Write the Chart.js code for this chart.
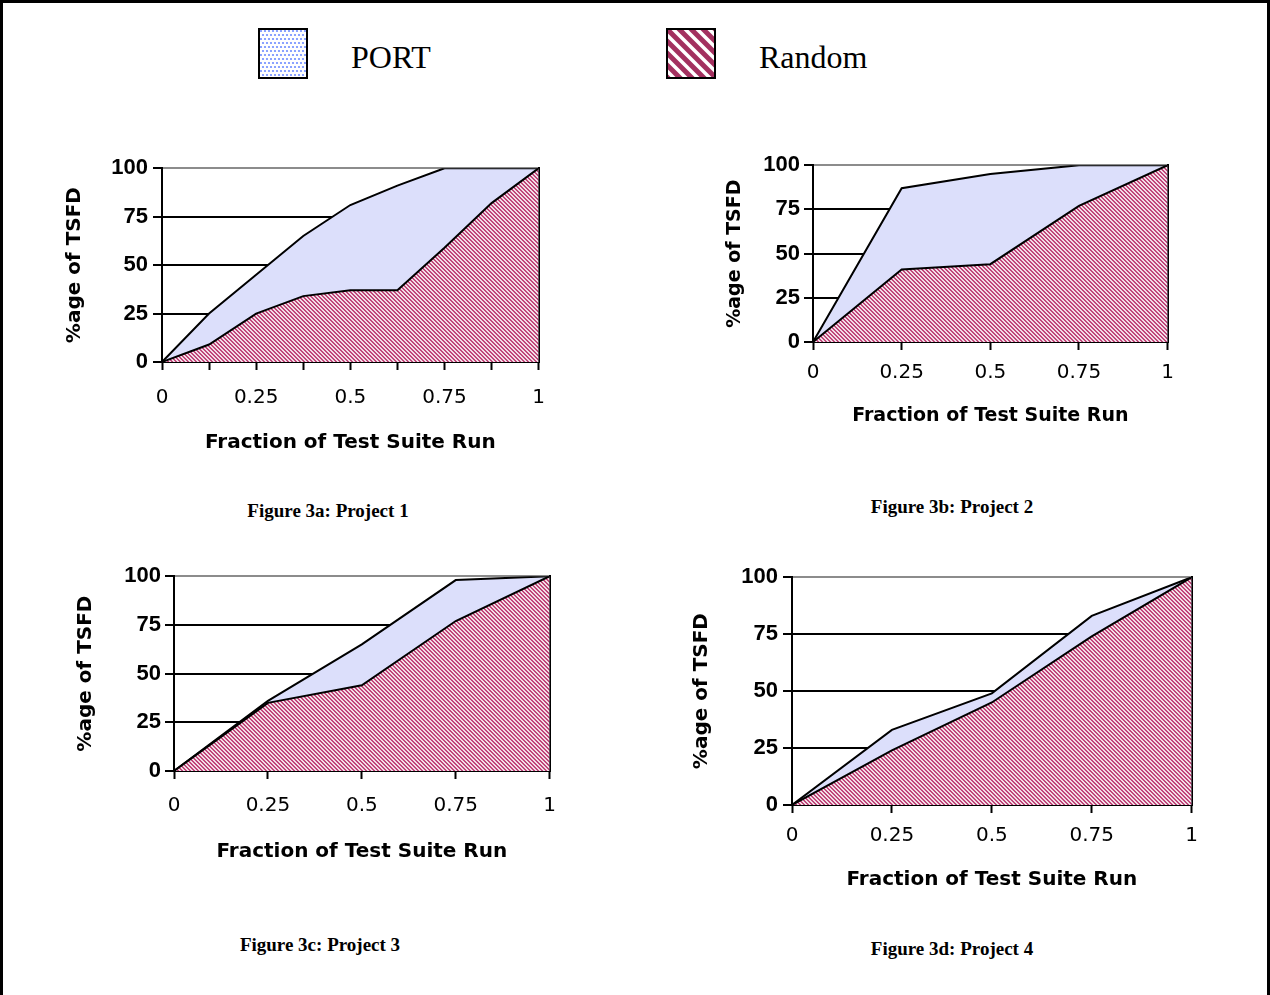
<!DOCTYPE html>
<html>
<head>
<meta charset="utf-8">
<script src="https://cdn.jsdelivr.net/npm/chart.js@4.4.1/dist/chart.umd.min.js"></script>
<style>
  body { margin: 0; background: #fff; }
  #page { position: relative; width: 1270px; height: 995px; overflow: hidden; }
  #frame { position: absolute; left: 0; top: 0; width: 1264px; height: 995px; border: 3px solid #000; border-bottom: none; }
  canvas.chart { position: absolute; }
  .cap { position: absolute; font: bold 19px "Liberation Serif", serif; transform: translateX(-50%); white-space: nowrap; }
  .legtxt { position: absolute; font: 32px "Liberation Serif", serif; line-height: 1; }
  .sw { position: absolute; }
</style>
</head>
<body>
<div id="page">
  <div id="frame"></div>

  <canvas class="sw" id="swPort" width="50" height="51" style="left:258px;top:28px"></canvas>
  <div class="legtxt" style="left:351px;top:41px">PORT</div>
  <canvas class="sw" id="swRandom" width="50" height="51" style="left:666px;top:28px"></canvas>
  <div class="legtxt" style="left:759px;top:41px">Random</div>

  <canvas class="chart" id="c1" width="521" height="310" style="left:40px;top:150px"></canvas>
  <canvas class="chart" id="c2" width="485" height="283" style="left:700px;top:148px"></canvas>
  <canvas class="chart" id="c3" width="521" height="309" style="left:50px;top:559px"></canvas>
  <canvas class="chart" id="c4" width="539" height="337" style="left:670px;top:559px"></canvas>

  <div class="cap" style="left:328px;top:500px">Figure 3a: Project 1</div>
  <div class="cap" style="left:952px;top:496px">Figure 3b: Project 2</div>
  <div class="cap" style="left:320px;top:934px">Figure 3c: Project 3</div>
  <div class="cap" style="left:952px;top:938px">Figure 3d: Project 4</div>
</div>

<script>
// data
const seriesNames = ["PORT", "Random"];
const xEighths = [0, 0.125, 0.25, 0.375, 0.5, 0.625, 0.75, 0.875, 1];
const xQuarters = [0, 0.25, 0.5, 0.75, 1];
const xTickLabels = [0, 0.25, 0.5, 0.75, 1];

const p1Port   = [0, 25, 45, 65, 81, 91, 100, 100, 100];
const p1Random = [0, 9, 25, 34, 37, 37, 59, 82, 100];
const p2Port   = [0, 87, 95, 100, 100];
const p2Random = [0, 41, 44, 77, 100];
const p3Port   = [0, 36, 65, 98, 100];
const p3Random = [0, 35, 44, 77, 100];
const p4Port   = [0, 33, 49, 83, 100];
const p4Random = [0, 24, 45, 74, 100];

const SANS = '"Liberation Sans", Arial, sans-serif';
const WIDE = '"DejaVu Sans", sans-serif';
const PORT_FILL = '#dcdffb';

function hatchPattern() {
  const t = document.createElement('canvas');
  t.width = 4; t.height = 4;
  const g = t.getContext('2d');
  for (let x = 0; x < 4; x++) {
    for (let y = 0; y < 4; y++) {
      g.fillStyle = (((x - y) % 4) + 4) % 4 < 2 ? '#c0467a' : '#f3dde6';
      g.fillRect(x, y, 1, 1);
    }
  }
  return document.createElement('canvas').getContext('2d').createPattern(t, 'repeat');
}
const randomFill = hatchPattern();

function pts(xs, ys) {
  return xs.map((x, i) => ({ x: x, y: ys[i] }));
}

function makeChart(id, xs, port, random, step, geo) {
  new Chart(document.getElementById(id), {
    type: 'line',
    data: {
      datasets: [
        { label: seriesNames[1], data: pts(xs, random), borderColor: '#000', borderWidth: 2,
          backgroundColor: randomFill, fill: 'origin', pointRadius: 0, tension: 0 },
        { label: seriesNames[0], data: pts(xs, port), borderColor: '#000', borderWidth: 2,
          backgroundColor: PORT_FILL, fill: 'origin', pointRadius: 0, tension: 0 }
      ]
    },
    options: {
      responsive: false,
      animation: false,
      layout: { padding: { top: 16, right: 0, left: 0, bottom: 0 } },
      plugins: { legend: { display: false }, tooltip: { enabled: false } },
      scales: {
        x: {
          type: 'linear', min: 0, max: 1,
          afterFit: s => { s.height = geo.xHeight; },
          ticks: {
            stepSize: step, autoSkip: false, maxRotation: 0, color: '#000',
            padding: geo.xTickPad, font: { family: WIDE, size: 20 },
            callback: v => xTickLabels.includes(v) ? String(v) : ''
          },
          grid: { drawOnChartArea: false, drawTicks: true, tickLength: 8, tickColor: '#000', tickWidth: 2 },
          border: { color: '#000', width: 2 },
          title: { display: true, text: 'Fraction of Test Suite Run', color: '#000',
                   font: { family: WIDE, size: geo.titleSize, weight: 'bold' }, padding: { top: 0, bottom: geo.xTitlePad } }
        },
        y: {
          min: 0, max: 100,
          afterFit: s => { s.width = geo.yWidth; },
          ticks: { stepSize: 25, color: '#000', padding: geo.yTickPad,
                   font: { family: SANS, size: 22, weight: 'bold' } },
          grid: { color: c => (c.tick && c.tick.value === 100) ? '#8c8c8c' : '#000',
                  lineWidth: 2, tickLength: 9, tickColor: '#000', tickWidth: 2 },
          border: { color: '#000', width: 2 },
          title: { display: true, text: '%age of TSFD', color: '#000',
                   font: { family: WIDE, size: geo.titleSize, weight: 'bold' }, padding: { top: geo.yTitlePad, bottom: 0 } }
        },
        y2: {
          position: 'right', min: 0, max: 100,
          afterFit: s => { s.width = 0; },
          ticks: { display: false },
          grid: { display: false, drawTicks: false },
          border: { color: '#000', width: 2 }
        }
      }
    }
  });
}

makeChart('c1', xEighths, p1Port, p1Random, 0.125,
  { yWidth: 122, xHeight: 98, xTickPad: 16, xTitlePad: 5, yTickPad: 5, yTitlePad: 23, titleSize: 20 });
makeChart('c2', xQuarters, p2Port, p2Random, 0.25,
  { yWidth: 113, xHeight: 89, xTickPad: 11, xTitlePad: 4, yTickPad: 4, yTitlePad: 24, titleSize: 19 });
makeChart('c3', xQuarters, p3Port, p3Random, 0.25,
  { yWidth: 124, xHeight: 97, xTickPad: 15, xTitlePad: 4, yTickPad: 4, yTitlePad: 24, titleSize: 20 });
makeChart('c4', xQuarters, p4Port, p4Random, 0.25,
  { yWidth: 122, xHeight: 91, xTickPad: 11, xTitlePad: 4, yTickPad: 5, yTitlePad: 20, titleSize: 20 });

// legend swatches
(function () {
  const a = document.getElementById('swPort').getContext('2d');
  a.fillStyle = '#fff'; a.fillRect(0, 0, 50, 51);
  a.fillStyle = '#6f8cff';
  for (let y = 3; y < 50; y += 4) {
    for (let x = (y % 8 === 3 ? 3 : 5); x < 49; x += 4) {
      a.beginPath(); a.arc(x, y, 1.1, 0, Math.PI * 2); a.fill();
    }
  }
  a.strokeStyle = '#000'; a.lineWidth = 2; a.strokeRect(1, 1, 48, 49);

  const b = document.getElementById('swRandom').getContext('2d');
  b.fillStyle = '#fff'; b.fillRect(0, 0, 50, 51);
  b.save();
  b.beginPath(); b.rect(1, 1, 48, 49); b.clip();
  b.strokeStyle = '#a3305f'; b.lineWidth = 5;
  for (let k = -60; k < 60; k += 12) {
    b.beginPath(); b.moveTo(k, 0); b.lineTo(k + 51, 51); b.stroke();
  }
  b.restore();
  b.strokeStyle = '#000'; b.lineWidth = 2; b.strokeRect(1, 1, 48, 49);
})();
</script>
</body>
</html>
